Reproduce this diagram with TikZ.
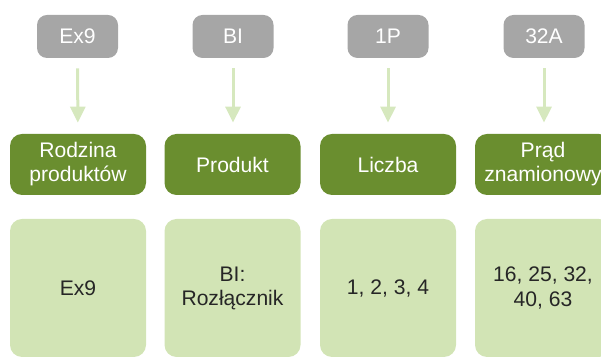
\documentclass[tikz,border=0pt]{standalone}
\usepackage{fontspec}
\setmainfont{Liberation Sans}
\usetikzlibrary{arrows.meta}
\definecolor{tagGray}{HTML}{A6A6A6}
\definecolor{headGreen}{HTML}{6A8E2F}
\definecolor{bodyGreen}{HTML}{D2E4B5}
\definecolor{arrowGreen}{HTML}{D6E8BE}
\definecolor{bodyText}{HTML}{262626}

\begin{document}
\begin{tikzpicture}[
    font=\fontsize{12}{13.7}\selectfont,
    tag/.style={fill=tagGray,text=white,rounded corners=0.2cm,minimum width=1.62cm,minimum height=0.86cm,inner sep=0pt},
    head/.style={fill=headGreen,text=white,rounded corners=0.24cm,minimum width=2.72cm,minimum height=1.22cm,inner sep=0pt,align=center},
    body/.style={fill=bodyGreen,text=bodyText,rounded corners=0.24cm,minimum width=2.72cm,minimum height=2.76cm,inner sep=0pt,align=center},
    down/.style={draw=arrowGreen,line width=0.06cm,-{Triangle[width=0.3cm,length=0.32cm]},shorten <=0.2cm,shorten >=0.22cm}
  ]
  \useasboundingbox (0,0) rectangle (12.02,7.2);
  \clip (0,0) rectangle (12.02,7.2);
  % top tags
  \node[tag] (Ex) at (1.55,6.47) {Ex9};
  \node[tag] (Bi) at (4.66,6.47) {BI};
  \node[tag] (Pol) at (7.76,6.47) {1P};
  \node[tag] (Amp) at (10.88,6.47) {32A};
  % headers
  \node[head] (Fam) at (1.56,3.91) {Rodzina\\produktów};
  \node[head] (Prod) at (4.65,3.91) {Produkt};
  \node[head] (Num) at (7.76,3.91) {Liczba};
  \node[head] (Cur) at (10.86,3.91) {Prąd\\znamionowy};
  % values
  \node[body] (FamV) at (1.56,1.44) {Ex9};
  \node[body] (ProdV) at (4.65,1.44) {BI:\\Rozłącznik};
  \node[body] (NumV) at (7.76,1.44) {1, 2, 3, 4};
  \node[body] (CurV) at (10.86,1.44) {16, 25, 32,\\40, 63};
  % arrows
  \draw[down] (Ex) -- (Fam);
  \draw[down] (Bi) -- (Bi |- Prod.north);
  \draw[down] (Pol) -- (Pol |- Num.north);
  \draw[down] (Amp) -- (Amp |- Cur.north);
\end{tikzpicture}
\end{document}
